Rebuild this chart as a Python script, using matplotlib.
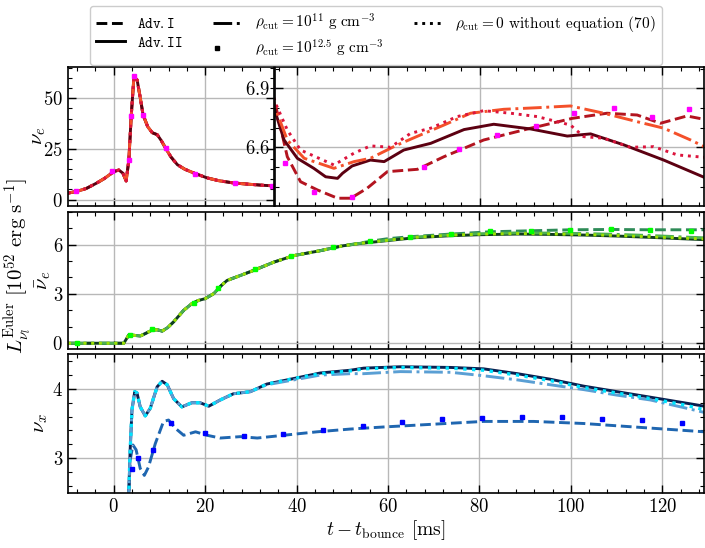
import numpy as np
import matplotlib
matplotlib.use("Agg")
import matplotlib.pyplot as plt
from matplotlib.ticker import MultipleLocator, FixedLocator, NullFormatter
from matplotlib.lines import Line2D
from matplotlib.legend_handler import HandlerLine2D

plt.rcParams['font.family'] = 'serif'
plt.rcParams['font.serif'] = ['cmr10', 'DejaVu Serif']
plt.rcParams['mathtext.fontset'] = 'cm'
plt.rcParams['axes.formatter.use_mathtext'] = True
plt.rcParams['axes.unicode_minus'] = False

# ---------------- data ----------------
# nu_e : shared early part (all models coincide)
nue_early_t = [-10, -8, -6, -3.7, -2, 0, 1.1, 2.0, 2.7, 3.3, 3.8, 4.4, 5.1, 5.8, 6.4, 7.4, 8.4, 9.5,
               10.4, 11.3, 12.5, 13.9, 15.5, 17.5, 20.4, 23, 26.2, 30, 33]
nue_early = [3.2, 4.1, 5.5, 8.2, 10.5, 13.8, 14.6, 13.0, 9.2, 19.7, 41, 60.6, 59, 50, 41.8, 36, 33, 32,
             29, 25.4, 21, 17.2, 15, 13.1, 10.7, 9.3, 8.2, 7.5, 7.0]
# nu_e late parts (inset)
nue_adv2_t = [35.4, 37.2, 40.1, 43.7, 46.3, 48.9, 50, 52.1, 56.1, 59.1, 63.4, 69.3, 76.6, 83.1, 91.2,
              99.2, 104.3, 111.6, 120.3, 129.2]
nue_adv2 = [6.77, 6.637, 6.544, 6.493, 6.45, 6.442, 6.468, 6.505, 6.535, 6.527, 6.586, 6.62, 6.69,
            6.717, 6.693, 6.657, 6.668, 6.612, 6.535, 6.447]
nue_adv1_t = [35.4, 37.9, 40.8, 44.5, 48.9, 51.8, 55.4, 59.8, 66.4, 72.2, 80.9, 91.2, 93.3, 100.3,
              107.9, 114.5, 119.6, 125.4, 129.2]
nue_adv1 = [6.806, 6.552, 6.425, 6.383, 6.341, 6.341, 6.392, 6.476, 6.488, 6.552, 6.637, 6.697, 6.708,
            6.747, 6.773, 6.764, 6.722, 6.759, 6.742]
nue_r11_t = [35.4, 37.9, 41.6, 48.1, 52.5, 56.1, 62, 67.1, 72.2, 78, 85.3, 92.6, 99.9, 107.2, 114.5,
             120.3, 126.2, 129.2]
nue_r11 = [6.79, 6.637, 6.544, 6.493, 6.527, 6.544, 6.612, 6.663, 6.713, 6.773, 6.793, 6.801, 6.81,
           6.773, 6.73, 6.697, 6.637, 6.603]
nue_r0_t = [35.4, 37.9, 40.8, 48.1, 52.5, 56.1, 60.5, 64.9, 69.3, 75.1, 80.9, 86.8, 92.6, 97, 99.9,
            102.8, 107.2, 113, 118.1, 123.3, 129.2]
nue_r0 = [6.82, 6.688, 6.586, 6.51, 6.57, 6.607, 6.6, 6.671, 6.697, 6.756, 6.786, 6.773, 6.756, 6.73,
          6.713, 6.654, 6.646, 6.6, 6.603, 6.561, 6.549]
nue_r125_t = [-8.2, -0.4, 3.4, 3.8, 4.5, 6.4, 11.3, 17.7, 26.5, 34.5,
              37.5, 43.7, 52.1, 67.8, 75.5, 83.9, 92.3, 100.6, 109.4, 117.8, 125.8]
nue_r125 = [4.2, 13.9, 19.6, 41.3, 61, 41.8, 25.4, 12.8, 8.2, 6.9,
            6.522, 6.374, 6.349, 6.498, 6.59, 6.663, 6.708, 6.773, 6.798, 6.756, 6.793]

# anti nu_e
nub_early_t = [-10, 2.2, 3.3, 4.5, 5.8, 7, 8.4, 9.5, 10.6, 11.8, 13.1, 15.3, 17.1, 18.5, 20, 21.9,
               23.5, 24.8, 27.7, 30.6, 35, 39.4, 45.2, 50]
nub_early = [0, 0, 0.5, 0.48, 0.44, 0.6, 0.8, 0.82, 0.74, 0.95, 1.3, 2.0, 2.41, 2.6, 2.71, 3.02,
             3.5, 3.82, 4.12, 4.43, 4.93, 5.33, 5.63, 5.92]
nub_late_t = [54, 59.8, 66, 73.7, 80, 88.3, 95, 102.8, 110, 117.4, 124, 129.2]
nub_adv2 = [6.07, 6.24, 6.42, 6.54, 6.6, 6.64, 6.62, 6.58, 6.52, 6.44, 6.36, 6.30]
nub_r11 = [6.08, 6.27, 6.46, 6.59, 6.66, 6.71, 6.70, 6.67, 6.62, 6.55, 6.47, 6.41]
nub_r0 = [6.08, 6.26, 6.44, 6.57, 6.63, 6.67, 6.65, 6.61, 6.55, 6.47, 6.40, 6.34]
nub_adv1_t = [54, 56.1, 60, 64.9, 73.7, 82.4, 91.2, 99.9, 108.7, 117.4, 129.2]
nub_adv1 = [6.1, 6.2, 6.36, 6.48, 6.64, 6.78, 6.84, 6.9, 6.92, 6.9, 6.9]
nub_r125_t = [-8, 3.6, 8.4, 17.6, 22.8, 30.8, 38.8, 48, 56.1, 64.9, 73.7, 82.4, 91.2, 99.9, 108.7,
              117.4, 126.2]
nub_r125 = [0, 0.5, 0.85, 2.45, 3.38, 4.49, 5.29, 5.85, 6.2, 6.48, 6.66, 6.8, 6.85, 6.9, 6.93,
            6.88, 6.85]

# nu_x
nux_t = [3.2, 3.6, 4.0, 4.6, 5.1, 5.8, 6.9, 8.0, 9.5, 10.6, 11.7, 13.1, 14.9, 17.1, 18.9, 20.8, 23.3,
         26.2, 29.9, 33.5, 39.4, 45.2, 51.8, 54.7, 62.7, 73.7, 80.9, 88.3, 95.5, 102.8, 110.1, 117.4,
         124.7, 129.2]
nux_adv2 = [2.3, 3.12, 3.70, 3.96, 3.94, 3.74, 3.61, 3.72, 4.03, 4.11, 4.06, 3.86, 3.74, 3.80, 3.80,
            3.75, 3.84, 3.93, 3.96, 4.07, 4.15, 4.23, 4.27, 4.30, 4.32, 4.31, 4.29, 4.22, 4.14, 4.04,
            3.96, 3.88, 3.80, 3.75]
nux_r0 = [2.3, 3.12, 3.70, 3.96, 3.94, 3.74, 3.61, 3.72, 4.03, 4.11, 4.06, 3.86, 3.74, 3.80, 3.80,
          3.75, 3.84, 3.93, 3.96, 4.07, 4.15, 4.22, 4.26, 4.29, 4.31, 4.30, 4.27, 4.20, 4.12, 4.02,
          3.94, 3.86, 3.77, 3.70]
nux_r11 = [2.3, 3.12, 3.70, 3.96, 3.94, 3.74, 3.61, 3.72, 4.03, 4.11, 4.06, 3.86, 3.74, 3.80, 3.80,
           3.75, 3.84, 3.93, 3.96, 4.06, 4.13, 4.20, 4.22, 4.22, 4.25, 4.24, 4.19, 4.13, 4.06, 3.99,
           3.91, 3.84, 3.73, 3.66]
nux_adv1_t = [3.2, 3.6, 4.2, 4.9, 5.8, 6.7, 7.6, 9.1, 10.9, 12.0, 13.5, 15.3, 17.9, 20.4, 23.3, 27.7,
              31.4, 37.2, 44.5, 51.8, 59.1, 70, 80.9, 91.9, 102.8, 113.8, 129.2]
nux_adv1 = [2.3, 2.97, 3.19, 3.12, 2.85, 2.75, 2.87, 3.21, 3.53, 3.55, 3.43, 3.33, 3.38, 3.33, 3.29,
            3.31, 3.29, 3.33, 3.38, 3.42, 3.45, 3.49, 3.53, 3.53, 3.50, 3.45, 3.38]
nux_r125_t = [3.9, 5.4, 8.7, 12.5, 20, 28.4, 37, 45.8, 54.5, 63.1, 71.8, 80.6, 89.3, 98.1, 106.8,
              115.6, 124.4]
nux_r125 = [2.84, 3.0, 3.11, 3.51, 3.36, 3.32, 3.35, 3.41, 3.46, 3.52, 3.56, 3.58, 3.60, 3.59, 3.57,
            3.55, 3.51]

labels = [r'$\mathtt{Adv.I}$', r'$\mathtt{Adv.II}$',
          r'$\rho_{\rm cut} = 10^{11}\ \mathrm{g\ cm}^{-3}$',
          r'$\rho_{\rm cut} = 10^{12.5}\ \mathrm{g\ cm}^{-3}$',
          r'$\rho_{\rm cut} = 0$ without equation (70)']

# ---------------- figure ----------------
W, H = 705, 548
fig = plt.figure(figsize=(W / 100, H / 100), dpi=100)

def fr(x0, y0, x1, y1):
    return [x0 / W, 1 - y1 / H, (x1 - x0) / W, (y1 - y0) / H]

ax_tl = fig.add_axes(fr(68, 67, 274.5, 205.7))
ax_tr = fig.add_axes(fr(274.5, 67, 704.3, 205.7))
ax_m = fig.add_axes(fr(68, 211.7, 704.3, 349))
ax_b = fig.add_axes(fr(68, 354.3, 704.3, 492.7))

LW = 2.1
MS = 3.2

def style(ax):
    ax.tick_params(which='both', direction='in', top=True, right=True, labelsize=13.5)
    ax.tick_params(which='major', length=6, width=1.0)
    ax.tick_params(which='minor', length=3, width=0.8)
    ax.grid(True, which='major', color='#b8b8b8', lw=1.0)
    ax.set_axisbelow(True)
    for s in ax.spines.values():
        s.set_linewidth(1.2)
    ax.xaxis.set_major_locator(MultipleLocator(20))
    ax.xaxis.set_minor_locator(MultipleLocator(4))

def full(a_t, a, b_t, b):
    return list(a_t) + list(b_t), list(a) + list(b)

# colours
c_top = dict(adv1='#b3141f', adv2='#5c0011', r11='#f4502a', r0='#dc143c', r125='#ff00ff')
c_mid = dict(adv1='#2e8b57', adv2='#0f3d1f', r11='#4cb050', r0='#9ee000', r125='#00ff00')
c_bot = dict(adv1='#1f66b0', adv2='#0a1f4f', r11='#5a9fd4', r0='#00e5ff', r125='#0000ff')

# top panels
for ax in (ax_tl, ax_tr):
    style(ax)
    t, v = full(nue_early_t, nue_early, nue_adv1_t, nue_adv1)
    ax.plot(t, v, ls='--', color=c_top['adv1'], lw=LW)
    t, v = full(nue_early_t, nue_early, nue_adv2_t, nue_adv2)
    ax.plot(t, v, ls='-', color=c_top['adv2'], lw=LW)
    t, v = full(nue_early_t, nue_early, nue_r11_t, nue_r11)
    ax.plot(t, v, ls='-.', color=c_top['r11'], lw=LW)
    t, v = full(nue_early_t, nue_early, nue_r0_t, nue_r0)
    ax.plot(t, v, ls=':', color=c_top['r0'], lw=LW)
    ax.plot(nue_r125_t, nue_r125, ls='none', marker='s', ms=MS, color=c_top['r125'])
    ax.xaxis.set_major_formatter(NullFormatter())

ax_tl.set_xlim(-10, 35.1)
ax_tl.set_ylim(-3, 65.4)
ax_tl.yaxis.set_major_locator(MultipleLocator(25))
ax_tl.yaxis.set_minor_locator(MultipleLocator(5))
ax_tr.set_xlim(35.1, 129.2)
ax_tr.set_ylim(6.303, 7.008)
ax_tr.yaxis.set_major_locator(FixedLocator([6.6, 6.9]))
ax_tr.yaxis.set_minor_locator(FixedLocator([6.4, 6.5, 6.7, 6.8, 7.0]))
ax_tr.tick_params(axis='y', which='major', pad=3)

# middle
style(ax_m)
t, v = full(nub_early_t, nub_early, nub_adv1_t, nub_adv1)
ax_m.plot(t, v, ls='--', color=c_mid['adv1'], lw=LW)
t, v = full(nub_early_t, nub_early, nub_late_t, nub_adv2)
ax_m.plot(t, v, ls='-', color=c_mid['adv2'], lw=LW)
t, v = full(nub_early_t, nub_early, nub_late_t, nub_r11)
ax_m.plot(t, v, ls='-.', color=c_mid['r11'], lw=LW)
t, v = full(nub_early_t, nub_early, nub_late_t, nub_r0)
ax_m.plot(t, v, ls=':', color=c_mid['r0'], lw=LW)
ax_m.plot(nub_r125_t, nub_r125, ls='none', marker='s', ms=MS, color=c_mid['r125'])
ax_m.set_xlim(-10, 129.2)
ax_m.set_ylim(-0.35, 8)
ax_m.yaxis.set_major_locator(MultipleLocator(3))
ax_m.yaxis.set_minor_locator(MultipleLocator(1))
ax_m.xaxis.set_major_formatter(NullFormatter())

# bottom
style(ax_b)
ax_b.plot(nux_adv1_t, nux_adv1, ls='--', color=c_bot['adv1'], lw=LW)
ax_b.plot(nux_t, nux_adv2, ls='-', color=c_bot['adv2'], lw=LW)
ax_b.plot(nux_t, nux_r11, ls='-.', color=c_bot['r11'], lw=LW)
ax_b.plot(nux_t, nux_r0, ls=':', color=c_bot['r0'], lw=LW + 0.3)
ax_b.plot(nux_r125_t, nux_r125, ls='none', marker='s', ms=MS, color=c_bot['r125'])
ax_b.set_xlim(-10, 129.2)
ax_b.set_ylim(2.5, 4.5)
ax_b.yaxis.set_major_locator(MultipleLocator(1))
ax_b.yaxis.set_minor_locator(MultipleLocator(0.2))
ax_b.set_xlabel(r'$t - t_{\rm bounce}$ [ms]', fontsize=14, labelpad=2)

# labels
fig.text(0.055, 1 - 136 / H, r'$\nu_e$', rotation=90, ha='center', va='center', fontsize=15)
fig.text(0.061, 1 - 280 / H, r'$\bar{\nu}_e$', rotation=90, ha='center', va='center', fontsize=15)
fig.text(0.058, 1 - 423 / H, r'$\nu_x$', rotation=90, ha='center', va='center', fontsize=15)
fig.text(0.026, 1 - 266 / H, r'$L^{\rm Euler}_{\nu_l}\ [10^{52}\ \mathrm{erg\ s}^{-1}]$',
         rotation=90, ha='center', va='center', fontsize=15)


class LeftMarkerHandler(HandlerLine2D):
    def get_xdata(self, legend, xdescent, ydescent, width, height, fontsize):
        x = np.array([-xdescent + 0.12 * width])
        return x, x


# legend
handles = [Line2D([], [], ls='--', color='black', lw=LW),
           Line2D([], [], ls='-', color='black', lw=LW),
           Line2D([], [], ls='-.', color='black', lw=LW),
           Line2D([], [], ls='none', marker='s', ms=MS, color='black'),
           Line2D([], [], ls=':', color='black', lw=LW)]
leg = fig.legend(handles, labels, ncol=3, loc='upper center', bbox_to_anchor=(0.533, 1.003),
                 fontsize=11, frameon=True, fancybox=True, edgecolor='#cccccc', framealpha=1,
                 handlelength=1.9, columnspacing=2.0, borderpad=0.4, labelspacing=0.3,
                 handler_map={handles[3]: LeftMarkerHandler(numpoints=1)})
for txt in leg.get_texts()[:2]:
    txt.set_fontsize(10.5)

fig.savefig('out.png', dpi=100)
